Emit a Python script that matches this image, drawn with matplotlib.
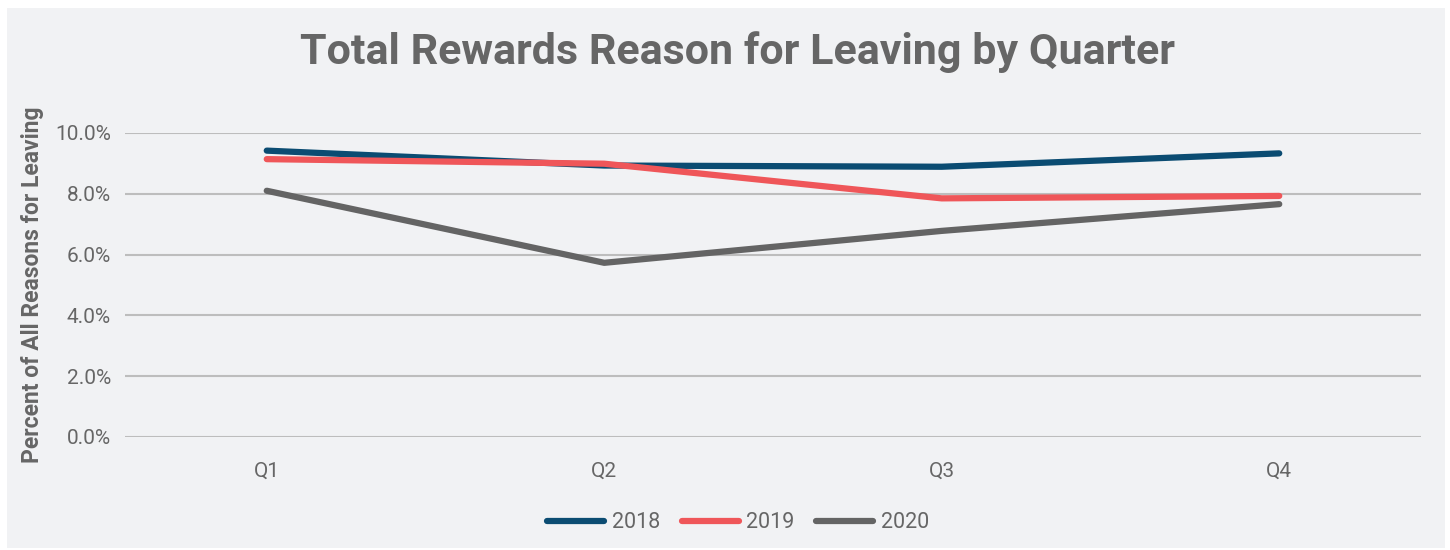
import matplotlib
matplotlib.use("Agg")
import matplotlib.pyplot as plt
from matplotlib.patches import Rectangle
from matplotlib.ticker import FuncFormatter

quarters = ["Q1", "Q2", "Q3", "Q4"]
years = ["2018", "2019", "2020"]
v2018 = [9.42, 8.93, 8.89, 9.33]
v2019 = [9.14, 8.99, 7.85, 7.93]
v2020 = [8.10, 5.73, 6.78, 7.66]
colors = ["#0b4c72", "#ef5659", "#646464"]

plt.rcParams['font.family'] = ['Roboto', 'DejaVu Sans']
txt = "#666666"

fig = plt.figure(figsize=(14.5, 5.5), dpi=100, facecolor="white")
fig.patches.append(Rectangle((7/1450, 1-548/550), 1438/1450, 540/550,
                             transform=fig.transFigure, facecolor="#f1f2f4",
                             edgecolor="none", zorder=-10))

ax = fig.add_axes([125/1450, 1-437/550, 1296/1450, 304/550])
ax.set_facecolor("none")
ax.set_zorder(2)

x = range(len(quarters))
for vals, c, lab in zip([v2018, v2019, v2020], colors, years):
    ax.plot(x, vals, color=c, lw=4.5, solid_capstyle="round", label=lab, zorder=3)

ax.set_xlim(-0.42, 3.42)
ax.set_ylim(0, 10)
ax.set_yticks([0, 2, 4, 6, 8, 10])
ax.yaxis.set_major_formatter(FuncFormatter(lambda v, p: f"{v:.1f}%"))
ax.set_xticks(list(x))
ax.set_xticklabels(quarters)
ax.grid(axis="y", color="#bdbdbd", lw=1.5)
ax.set_axisbelow(True)
for s in ax.spines.values():
    s.set_visible(False)
ax.tick_params(length=0, labelsize=15, labelcolor=txt)
ax.tick_params(axis="x", pad=18)
ax.tick_params(axis="y", pad=10)

ax.set_ylabel("Percent of All Reasons for Leaving", fontsize=16.5, fontweight="bold",
              color=txt, labelpad=8)

fig.text(738/1450, 1-52/550, "Total Rewards Reason for Leaving by Quarter",
         ha="center", va="center", fontsize=31, fontweight="bold", color=txt)

leg = fig.legend(loc="center", bbox_to_anchor=(738/1450, 1-523/550), ncol=3,
                 frameon=False, fontsize=15.5, handlelength=2.65, columnspacing=1.0,
                 handletextpad=0.35)
for t in leg.get_texts():
    t.set_color(txt)

fig.savefig("out.png", dpi=100, facecolor="white")
